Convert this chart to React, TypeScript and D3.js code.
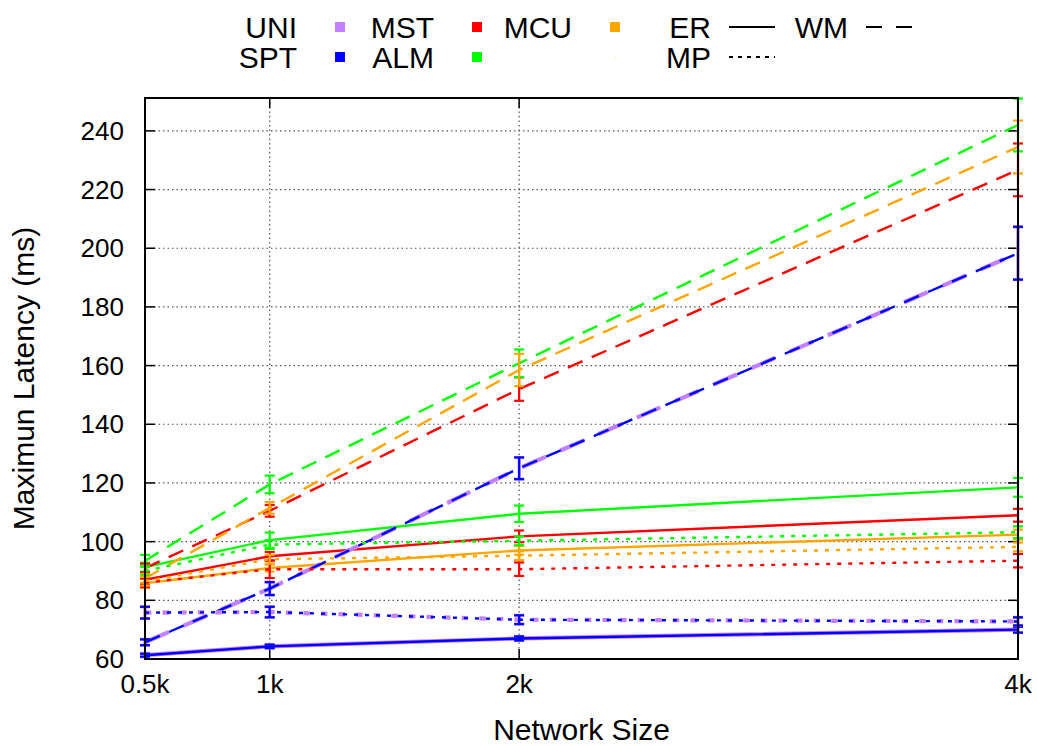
import React from "react";
import * as d3 from "d3";

// ---------- data ----------
const X_VALUES = [0.5, 1, 2, 4];
const X_LABELS = ["0.5k", "1k", "2k", "4k"];
const Y_TICKS = [60, 80, 100, 120, 140, 160, 180, 200, 220, 240];

// ER topology (solid)
const ER_UNI = [61.3, 64.3, 67.0, 70.0];
const ER_SPT = [61.3, 64.3, 67.0, 70.0];
const ER_MST = [87.0, 95.0, 101.8, 109.0];
const ER_ALM = [91.3, 100.5, 109.5, 118.5];
const ER_MCU = [85.8, 91.0, 97.0, 102.4];
const ER_UNI_ERR = [0.6, 0.6, 0.7, 1.0];
const ER_SPT_ERR = [0.5, 0.6, 0.7, 1.0];
const ER_MST_ERR = [1.5, 1.5, 2.0, 2.2];
const ER_ALM_ERR = [1.5, 2.6, 2.8, 3.2];
const ER_MCU_ERR = [1.5, 1.2, 1.5, 1.7];

// WM topology (dashed)
const WM_UNI = [65.7, 84.0, 125.0, 198.3];
const WM_SPT = [65.7, 84.0, 125.0, 198.3];
const WM_MST = [91.0, 110.5, 152.0, 226.7];
const WM_ALM = [93.5, 119.5, 160.8, 242.0];
const WM_MCU = [87.5, 111.5, 158.5, 234.5];
const WM_UNI_ERR = [1.0, 2.2, 3.7, 9.0];
const WM_SPT_ERR = [1.0, 2.2, 3.7, 9.0];
const WM_MST_ERR = [1.5, 2.0, 4.0, 9.0];
const WM_ALM_ERR = [2.0, 3.0, 4.7, 9.0];
const WM_MCU_ERR = [1.5, 2.0, 5.5, 9.0];

// MP topology (dotted)
const MP_UNI = [75.8, 76.0, 73.4, 72.8];
const MP_SPT = [75.8, 76.0, 73.4, 72.8];
const MP_MST = [86.0, 90.6, 90.6, 93.5];
const MP_ALM = [90.0, 99.0, 100.3, 103.2];
const MP_MCU = [86.5, 94.0, 95.2, 98.2];
const MP_UNI_ERR = [2.0, 1.8, 1.5, 1.4];
const MP_SPT_ERR = [2.0, 1.8, 1.5, 1.4];
const MP_MST_ERR = [1.5, 3.0, 2.3, 2.3];
const MP_ALM_ERR = [1.5, 1.5, 1.5, 2.0];
const MP_MCU_ERR = [1.5, 1.5, 1.5, 1.5];

const ALGORITHMS = ["UNI", "SPT", "MST", "ALM", "MCU"];
const TOPOLOGIES = ["ER", "WM", "MP"];

// ---------- styling ----------
const COLORS: Record<string, string> = {
  UNI: "#c080ff",
  SPT: "#0000ff",
  MST: "#ff0000",
  ALM: "#00ff00",
  MCU: "#ffa500",
};
const DASH: Record<string, number[]> = { ER: [], WM: [16, 10], MP: [4, 7] };

const W = 1037;
const H = 746;
const M = { left: 145, right: 1018, top: 98, bottom: 659 };
const FONT = "'Liberation Sans', Arial, Helvetica, sans-serif";

const DATA: Record<string, Record<string, { v: number[]; e: number[] }>> = {
  ER: {
    UNI: { v: ER_UNI, e: ER_UNI_ERR },
    SPT: { v: ER_SPT, e: ER_SPT_ERR },
    MST: { v: ER_MST, e: ER_MST_ERR },
    ALM: { v: ER_ALM, e: ER_ALM_ERR },
    MCU: { v: ER_MCU, e: ER_MCU_ERR },
  },
  WM: {
    UNI: { v: WM_UNI, e: WM_UNI_ERR },
    SPT: { v: WM_SPT, e: WM_SPT_ERR },
    MST: { v: WM_MST, e: WM_MST_ERR },
    ALM: { v: WM_ALM, e: WM_ALM_ERR },
    MCU: { v: WM_MCU, e: WM_MCU_ERR },
  },
  MP: {
    UNI: { v: MP_UNI, e: MP_UNI_ERR },
    SPT: { v: MP_SPT, e: MP_SPT_ERR },
    MST: { v: MP_MST, e: MP_MST_ERR },
    ALM: { v: MP_ALM, e: MP_ALM_ERR },
    MCU: { v: MP_MCU, e: MP_MCU_ERR },
  },
};

function dashFor(topo: string, scale: number) {
  const d = DASH[topo];
  return d.length ? d.map((v) => v * scale).join(",") : "none";
}

export default function App() {
  const x = d3.scaleLinear().domain([0.5, 4]).range([M.left, M.right]);
  const y = d3.scaleLinear().domain([60, 251.2]).range([M.bottom, M.top]);
  const line = d3
    .line<number>()
    .x((_, i) => x(X_VALUES[i]))
    .y((d) => y(d));

  const series: JSX.Element[] = [];
  TOPOLOGIES.forEach((topo) => {
    ALGORITHMS.forEach((alg) => {
      const s = DATA[topo][alg];
      const col = COLORS[alg];
      const isUni = alg === "UNI";
      const lw = isUni ? 4.2 : 2.4;
      series.push(
        <path
          key={`${topo}-${alg}-line`}
          d={line(s.v) || ""}
          fill="none"
          stroke={col}
          strokeWidth={lw}
          strokeDasharray={dashFor(topo, isUni ? 1.6 : 1)}
        />
      );
      s.v.forEach((v, i) => {
        const cx = x(X_VALUES[i]);
        const y1 = y(v + s.e[i]);
        const y2 = y(v - s.e[i]);
        const cw = 5;
        series.push(
          <g key={`${topo}-${alg}-err-${i}`} stroke={col} strokeWidth={isUni ? 3 : 2.2}>
            <line x1={cx} x2={cx} y1={y1} y2={y2} />
            <line x1={cx - cw} x2={cx + cw} y1={y1} y2={y1} />
            <line x1={cx - cw} x2={cx + cw} y1={y2} y2={y2} />
          </g>
        );
      });
    });
  });

  // legend layout: text right edges per column, two rows
  const legendCols = [297, 434, 572, 711, 848];
  const legendRows = [27, 57];
  const fs = 26;
  const lfs = 30;

  const legendTextItems = [
    { t: "UNI", c: 0, r: 0 },
    { t: "MST", c: 1, r: 0 },
    { t: "MCU", c: 2, r: 0 },
    { t: "ER", c: 3, r: 0 },
    { t: "WM", c: 4, r: 0 },
    { t: "SPT", c: 0, r: 1 },
    { t: "ALM", c: 1, r: 1 },
    { t: "MP", c: 3, r: 1 },
  ];
  const legendSquares = [
    { alg: "UNI", c: 0, r: 0 },
    { alg: "MST", c: 1, r: 0 },
    { alg: "MCU", c: 2, r: 0 },
    { alg: "SPT", c: 0, r: 1 },
    { alg: "ALM", c: 1, r: 1 },
  ];
  const legendLines = [
    { topo: "ER", c: 3, r: 0 },
    { topo: "WM", c: 4, r: 0 },
    { topo: "MP", c: 3, r: 1 },
  ];

  return (
    <svg
      width={W}
      height={H}
      style={{ position: "fixed", left: 0, top: 0, background: "#fff" }}
      fontFamily={FONT}
    >
      <rect x={0} y={0} width={W} height={H} fill="#fff" />
      {/* grid */}
      <g stroke="#555" strokeWidth={1.2} strokeDasharray="1.5,3">
        {Y_TICKS.filter((t) => t > 60).map((t) => (
          <line key={`gy${t}`} x1={M.left} x2={M.right} y1={y(t)} y2={y(t)} />
        ))}
        {X_VALUES.slice(1, 3).map((v) => (
          <line key={`gx${v}`} x1={x(v)} x2={x(v)} y1={M.top} y2={M.bottom} />
        ))}
      </g>
      {/* ticks */}
      <g stroke="#000" strokeWidth={1.5}>
        {Y_TICKS.map((t) => (
          <g key={`ty${t}`}>
            <line x1={M.left} x2={M.left + 10} y1={y(t)} y2={y(t)} />
            <line x1={M.right - 10} x2={M.right} y1={y(t)} y2={y(t)} />
          </g>
        ))}
        {X_VALUES.map((v) => (
          <g key={`tx${v}`}>
            <line x1={x(v)} x2={x(v)} y1={M.bottom} y2={M.bottom - 10} />
            <line x1={x(v)} x2={x(v)} y1={M.top} y2={M.top + 10} />
          </g>
        ))}
      </g>
      {/* data */}
      {series}
      {/* border */}
      <rect
        x={M.left}
        y={M.top}
        width={M.right - M.left}
        height={M.bottom - M.top}
        fill="none"
        stroke="#000"
        strokeWidth={2}
      />
      {/* tick labels */}
      <g fontSize={fs} fill="#000">
        {Y_TICKS.map((t) => (
          <text key={`ly${t}`} x={124} y={y(t) + 9} textAnchor="end">
            {t}
          </text>
        ))}
        {X_VALUES.map((v, i) => (
          <text key={`lx${v}`} x={x(v)} y={693} textAnchor="middle">
            {X_LABELS[i]}
          </text>
        ))}
      </g>
      <g fontSize={lfs} fill="#000">
        <text x={(M.left + M.right) / 2} y={740} textAnchor="middle">
          Network Size
        </text>
        <text
          transform={`translate(34, ${(M.top + M.bottom) / 2}) rotate(-90)`}
          textAnchor="middle"
        >
          Maximun Latency (ms)
        </text>
      </g>
      {/* legend */}
      <g fontSize={lfs} fill="#000">
        {legendTextItems.map((it) => (
          <text
            key={`lt${it.t}`}
            x={legendCols[it.c]}
            y={legendRows[it.r] + 11}
            textAnchor="end"
          >
            {it.t}
          </text>
        ))}
        {legendSquares.map((it) => (
          <rect
            key={`ls${it.alg}`}
            x={legendCols[it.c] + 38}
            y={legendRows[it.r] - 5}
            width={10}
            height={10}
            fill={COLORS[it.alg]}
          />
        ))}
        <rect x={legendCols[2] + 43} y={legendRows[1]} width={1.2} height={1.2} fill="#ffe680" />
        {legendLines.map((it) => (
          <line
            key={`ll${it.topo}`}
            x1={legendCols[it.c] + 18}
            x2={legendCols[it.c] + 64}
            y1={legendRows[it.r]}
            y2={legendRows[it.r]}
            stroke="#000"
            strokeWidth={2}
            strokeDasharray={it.topo === "WM" ? "16,14" : it.topo === "MP" ? "4,5" : "none"}
          />
        ))}
      </g>
    </svg>
  );
}
